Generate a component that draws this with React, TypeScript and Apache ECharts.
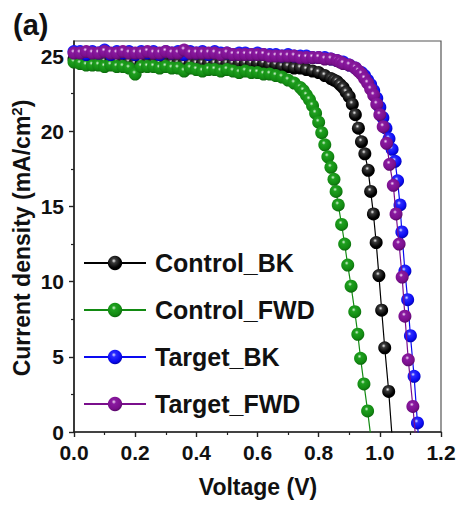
import React, { useEffect, useRef } from "react";
import * as echarts from "echarts";

// ---------- data (Voltage V, Current density mA/cm2) ----------
const seriesNames = ["Control_BK", "Control_FWD", "Target_BK", "Target_FWD"];

const controlBK: [number, number][] = [
  [0.0, 24.8], [0.02, 24.7], [0.04, 24.7], [0.06, 24.6], [0.08, 24.7], [0.1, 24.6], [0.12, 24.6], [0.14, 24.6],
  [0.16, 24.5], [0.18, 24.6], [0.2, 24.5], [0.22, 24.6], [0.24, 24.5], [0.26, 24.5], [0.28, 24.5], [0.3, 24.5],
  [0.32, 24.5], [0.34, 24.5], [0.36, 24.5], [0.38, 24.5], [0.4, 24.5], [0.42, 24.5], [0.44, 24.5], [0.46, 24.5],
  [0.48, 24.5], [0.5, 24.5], [0.52, 24.5], [0.54, 24.5], [0.56, 24.5], [0.58, 24.5], [0.6, 24.5], [0.62, 24.5],
  [0.64, 24.4], [0.66, 24.4], [0.68, 24.3], [0.7, 24.3], [0.72, 24.2], [0.74, 24.2], [0.76, 24.1], [0.78, 24.0],
  [0.8, 23.9], [0.82, 23.7], [0.84, 23.5], [0.85, 23.4], [0.86, 23.3], [0.87, 23.1], [0.88, 22.9], [0.89, 22.6],
  [0.9, 22.3], [0.91, 21.8], [0.92, 21.1], [0.93, 20.2], [0.94, 19.3], [0.951, 18.5], [0.962, 17.4], [0.97, 16.0],
  [0.979, 14.5], [0.988, 12.6], [0.997, 10.4], [1.006, 8.1], [1.016, 5.6], [1.029, 2.7], [1.04, -0.3],
];

const controlFWD: [number, number][] = [
  [0.0, 24.6], [0.02, 24.5], [0.04, 24.4], [0.06, 24.4], [0.08, 24.4], [0.1, 24.3], [0.12, 24.4], [0.14, 24.3],
  [0.16, 24.3], [0.18, 24.2], [0.2, 23.8], [0.22, 24.3], [0.24, 24.3], [0.26, 24.3], [0.28, 24.2], [0.3, 24.3],
  [0.32, 24.2], [0.34, 24.2], [0.36, 24.0], [0.38, 24.2], [0.4, 24.1], [0.42, 24.0], [0.44, 24.1], [0.46, 24.1],
  [0.48, 24.0], [0.5, 24.1], [0.52, 24.0], [0.54, 23.9], [0.56, 24.0], [0.58, 23.9], [0.6, 23.9], [0.62, 23.8],
  [0.64, 23.8], [0.66, 23.7], [0.68, 23.6], [0.7, 23.4], [0.72, 23.2], [0.74, 22.9], [0.75, 22.7], [0.76, 22.4],
  [0.77, 22.1], [0.78, 21.7], [0.79, 21.2], [0.8, 20.6], [0.81, 19.9], [0.82, 19.1], [0.83, 18.3], [0.84, 17.6],
  [0.85, 16.8], [0.857, 16.0], [0.864, 15.1], [0.875, 13.8], [0.885, 12.5], [0.895, 11.1], [0.906, 9.7], [0.918, 8.0],
  [0.928, 6.5], [0.937, 4.9], [0.948, 3.2], [0.96, 1.4], [0.971, -0.4],
];

const targetBK: [number, number][] = [
  [0.0, 25.3], [0.02, 25.3], [0.04, 25.1], [0.06, 25.3], [0.08, 25.2], [0.1, 25.4], [0.12, 25.1], [0.14, 25.3],
  [0.16, 25.2], [0.18, 25.3], [0.2, 25.1], [0.22, 25.3], [0.24, 25.2], [0.26, 25.3], [0.28, 25.1], [0.3, 25.3],
  [0.32, 25.2], [0.34, 25.3], [0.36, 25.1], [0.38, 25.3], [0.4, 25.2], [0.42, 25.3], [0.44, 25.1], [0.46, 25.3],
  [0.48, 25.2], [0.5, 25.2], [0.52, 25.1], [0.54, 25.2], [0.56, 25.2], [0.58, 25.1], [0.6, 25.2], [0.62, 25.1],
  [0.64, 25.1], [0.66, 25.1], [0.68, 25.0], [0.7, 25.1], [0.72, 25.0], [0.74, 25.0], [0.76, 25.0], [0.78, 24.9],
  [0.8, 24.9], [0.82, 24.9], [0.84, 24.8], [0.86, 24.7], [0.88, 24.6], [0.9, 24.4], [0.92, 24.2], [0.94, 23.9],
  [0.95, 23.7], [0.96, 23.4], [0.97, 23.1], [0.98, 22.7], [0.99, 22.2], [1.0, 21.6], [1.01, 20.9], [1.02, 20.2],
  [1.03, 19.5], [1.04, 18.8], [1.05, 18.0], [1.058, 16.7], [1.066, 15.1], [1.072, 13.3], [1.082, 10.7], [1.091, 8.8],
  [1.1, 6.4], [1.112, 3.7], [1.123, 0.6], [1.132, -2.0],
];

const targetFWD: [number, number][] = [
  [0.0, 25.2], [0.02, 25.2], [0.04, 25.3], [0.06, 25.2], [0.08, 25.2], [0.1, 25.3], [0.12, 25.2], [0.14, 25.2],
  [0.16, 25.3], [0.18, 25.2], [0.2, 25.2], [0.22, 25.2], [0.24, 25.3], [0.26, 25.2], [0.28, 25.2], [0.3, 25.3],
  [0.32, 25.2], [0.34, 25.2], [0.36, 25.4], [0.38, 25.2], [0.4, 25.2], [0.42, 25.2], [0.44, 25.2], [0.46, 25.2],
  [0.48, 25.1], [0.5, 25.2], [0.52, 25.1], [0.54, 25.1], [0.56, 25.1], [0.58, 25.1], [0.6, 25.1], [0.62, 25.1],
  [0.64, 25.0], [0.66, 25.0], [0.68, 25.0], [0.7, 25.0], [0.72, 25.0], [0.74, 24.9], [0.76, 24.9], [0.78, 24.9],
  [0.8, 24.9], [0.82, 24.8], [0.84, 24.8], [0.86, 24.7], [0.87, 24.6], [0.88, 24.5], [0.9, 24.4], [0.92, 24.2],
  [0.93, 24.0], [0.94, 23.8], [0.95, 23.5], [0.96, 23.2], [0.97, 22.8], [0.98, 22.4], [0.99, 21.8], [1.0, 21.1],
  [1.011, 20.3], [1.022, 19.2], [1.032, 17.8], [1.044, 16.4], [1.053, 14.5], [1.063, 12.5], [1.073, 10.3], [1.082, 7.7],
  [1.093, 4.8], [1.108, 1.7], [1.118, -0.6],
];

const xTicks = { min: 0, max: 1.2, interval: 0.2 };
const yTicks = { min: 0, max: 25, interval: 5 };
const yTop = 26;
const xTitle = "Voltage (V)";
const yTitleRich = "{n|Current density (mA/cm}{s|2}{n|)}";
const panelLabel = "(a)";

const colors = ["#000000", "#128a12", "#0a0af0", "#7a0f8c"];
const highlights = ["#f0f0f0", "#d8f5d8", "#e0e0ff", "#f5dcf8"];
const mids = ["#3a3a3a", "#1fa01f", "#2a2aff", "#8a1aa0"];
const darks = ["#000000", "#0a5e0a", "#00009a", "#4e0660"];

const FONT = "'Liberation Sans', Arial, Helvetica, sans-serif";

function sphere(i: number) {
  return {
    type: "radial",
    x: 0.42,
    y: 0.35,
    r: 0.7,
    colorStops: [
      { offset: 0, color: highlights[i] },
      { offset: 0.22, color: mids[i] },
      { offset: 0.7, color: colors[i] },
      { offset: 1, color: darks[i] },
    ],
  };
}

export default function App() {
  const ref = useRef<HTMLDivElement>(null);

  useEffect(() => {
    if (!ref.current) return;
    const chart = echarts.init(ref.current, null, { renderer: "svg" });
    const allData = [controlBK, controlFWD, targetBK, targetFWD];

    const series = allData.map((d, i) => ({
      name: seriesNames[i],
      type: "line",
      xAxisIndex: 0,
      yAxisIndex: 0,
      data: d,
      symbol: "circle",
      symbolSize: 13,
      showSymbol: true,
      clip: true,
      lineStyle: { color: colors[i], width: 1.2 },
      itemStyle: { color: sphere(i), borderWidth: 0 },
      z: 2 + i,
    }));

    const labelStyle = { fontFamily: FONT, fontWeight: "bold", fontSize: 21, color: "#111" };

    chart.setOption({
      animation: false,
      backgroundColor: "#ffffff",
      grid: [
        { left: 74, right: 20, top: 41, bottom: 74, show: true, borderColor: "#555", borderWidth: 1.2, backgroundColor: "transparent", containLabel: false, outerBoundsMode: "none" },
        { left: 74, right: 20, top: 56, bottom: 74, show: false, containLabel: false, outerBoundsMode: "none" },
      ],
      xAxis: [
        {
          type: "value",
          gridIndex: 0,
          min: xTicks.min,
          max: xTicks.max,
          interval: xTicks.interval,
          axisLine: { show: true, onZero: false, lineStyle: { color: "#222", width: 1.6 } },
          axisTick: { show: true, inside: false, length: 5, lineStyle: { color: "#222", width: 1.4 } },
          minorTick: { show: true, splitNumber: 2, length: 3, lineStyle: { color: "#222", width: 1.2 } },
          splitLine: { show: false },
          axisLabel: { ...labelStyle, margin: 10, formatter: (v: number) => v.toFixed(1) },
        },
        { type: "value", gridIndex: 1, min: xTicks.min, max: xTicks.max, show: false },
      ],
      yAxis: [
        {
          type: "value",
          gridIndex: 0,
          min: 0,
          max: yTop,
          axisLine: { show: true, onZero: false, lineStyle: { color: "#222", width: 1.6 } },
          axisTick: { show: false },
          axisLabel: { show: false },
          splitLine: { show: false },
        },
        {
          type: "value",
          gridIndex: 1,
          min: yTicks.min,
          max: yTicks.max,
          interval: yTicks.interval,
          axisLine: { show: false },
          axisTick: { show: true, inside: false, length: 5, lineStyle: { color: "#222", width: 1.4 } },
          minorTick: { show: true, splitNumber: 2, length: 3, lineStyle: { color: "#222", width: 1.2 } },
          splitLine: { show: false },
          axisLabel: { ...labelStyle, margin: 10 },
        },
      ],
      legend: {
        orient: "vertical",
        left: 83,
        top: 249,
        itemWidth: 62,
        itemHeight: 18,
        itemGap: 19,
        padding: 0,
        selectedMode: false,
        data: seriesNames,
        textStyle: { fontFamily: FONT, fontWeight: "bold", fontSize: 25, color: "#111", lineHeight: 28, padding: [0, 0, 0, 4] },
      },
      graphic: [
        {
          type: "text",
          left: 13,
          top: 10,
          style: { text: panelLabel, fontFamily: FONT, fontWeight: "bold", fontSize: 29, fill: "#111" },
        },
        {
          type: "text",
          x: 258,
          y: 487,
          style: {
            text: xTitle,
            fontFamily: FONT,
            fontWeight: "bold",
            fontSize: 23,
            fill: "#111",
            align: "center",
            verticalAlign: "middle",
          },
        },
        {
          type: "text",
          x: 22,
          y: 238,
          rotation: Math.PI / 2,
          style: {
            text: yTitleRich,
            align: "center",
            verticalAlign: "middle",
            rich: {
              n: { fontFamily: FONT, fontWeight: "bold", fontSize: 23, fill: "#111", lineHeight: 26 },
              s: { fontFamily: FONT, fontWeight: "bold", fontSize: 15, fill: "#111", lineHeight: 26, verticalAlign: "top" },
            },
          },
        },
      ],
      series,
    });

    return () => chart.dispose();
  }, []);

  return <div ref={ref} style={{ position: "fixed", left: 0, top: 0, width: 461, height: 506 }} />;
}
